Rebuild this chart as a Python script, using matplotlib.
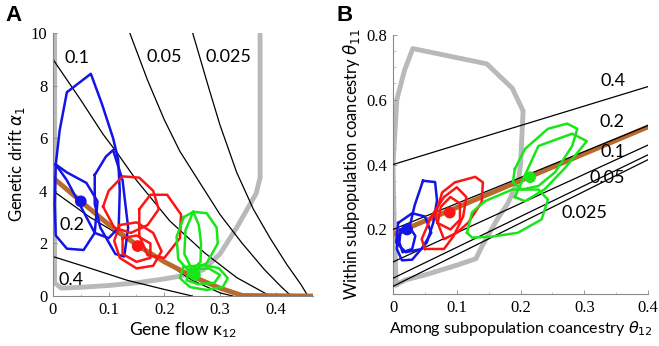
import numpy as np
import matplotlib.pyplot as plt
from matplotlib.ticker import MultipleLocator

# =============================================================================
# Dados
# =============================================================================
# Painel A: curvas de nivel (kappa_12, alpha_1)
a_levels = ['0.4', '0.2', '0.1', '0.05', '0.025']
a_kappa = [
    [0.0, 0.066, 0.133, 0.2, 0.25],
    [0.0, 0.066, 0.156, 0.2, 0.25, 0.3, 0.323],
    [0.0, 0.05, 0.09, 0.115, 0.15, 0.21, 0.273, 0.33, 0.39],
    [0.138, 0.17, 0.2, 0.228, 0.264, 0.3, 0.34, 0.38, 0.41, 0.428],
    [0.251, 0.28, 0.30, 0.33, 0.36, 0.39, 0.42, 0.445, 0.458],
]
a_alpha = [
    [1.5, 1.06, 0.6, 0.25, 0.0],
    [4.0, 3.0, 1.86, 1.3, 0.6, 0.12, 0.0],
    [9.0, 7.45, 6.15, 5.45, 4.4, 2.85, 1.63, 0.7, 0.0],
    [10.0, 8.2, 6.7, 5.5, 4.3, 3.1, 2.0, 1.0, 0.35, 0.0],
    [10.0, 7.9, 6.5, 4.7, 3.3, 2.2, 1.2, 0.45, 0.0],
]
a_label_pos = [(0.032, 0.6), (0.034, 2.7), (0.043, 9.05), (0.2, 9.1), (0.316, 9.1)]

a_brown_k = [0.0, 0.05, 0.1, 0.15, 0.2, 0.25, 0.3, 0.34, 0.467]
a_brown_a = [4.5, 3.6, 2.72, 1.95, 1.3, 0.75, 0.3, 0.02, 0.0]

a_gray_k = [0.372, 0.372, 0.365, 0.33, 0.30, 0.27, 0.24, 0.2, 0.15, 0.1, 0.05, 0.015, 0.003, 0.003]
a_gray_a = [10.0, 4.5, 3.9, 2.6, 1.6, 1.0, 0.8, 0.65, 0.5, 0.4, 0.33, 0.3, 0.5, 10.0]

a_blue_loops = [
    ([0.005, 0.012, 0.025, 0.068, 0.088, 0.108, 0.117, 0.12, 0.118, 0.1, 0.075, 0.05, 0.025, 0.005],
     [5.0, 6.3, 7.75, 8.45, 7.3, 6.0, 5.2, 4.0, 2.6, 2.2, 2.4, 3.4, 4.4, 5.0]),
    ([0.005, 0.025, 0.06, 0.08, 0.075, 0.055, 0.025, 0.005, 0.003, 0.005],
     [5.0, 4.7, 4.3, 3.6, 2.4, 1.75, 1.8, 2.3, 3.5, 5.0]),
    ([0.075, 0.095, 0.108, 0.125, 0.135, 0.128, 0.112, 0.085, 0.075, 0.075],
     [4.6, 5.3, 5.55, 4.4, 2.6, 1.5, 1.6, 2.6, 3.5, 4.6]),
]
a_red_loops = [
    ([0.09, 0.1, 0.125, 0.155, 0.18, 0.19, 0.17, 0.14, 0.11, 0.09],
     [3.4, 4.0, 4.55, 4.5, 4.0, 3.3, 2.7, 2.4, 2.6, 3.4]),
    ([0.155, 0.175, 0.205, 0.23, 0.228, 0.2, 0.17, 0.155, 0.155],
     [3.3, 3.85, 3.85, 3.1, 2.2, 1.45, 1.55, 2.3, 3.3]),
    ([0.12, 0.11, 0.12, 0.15, 0.18, 0.195, 0.18, 0.15, 0.12],
     [2.7, 2.1, 1.45, 1.05, 1.15, 1.7, 2.4, 2.8, 2.7]),
    ([0.125, 0.125, 0.15, 0.175, 0.175, 0.15, 0.125],
     [2.2, 1.6, 1.3, 1.45, 2.0, 2.3, 2.2]),
]
a_green_loops = [
    ([0.235, 0.252, 0.276, 0.294, 0.296, 0.276, 0.246, 0.225, 0.222, 0.235],
     [3.0, 3.2, 3.15, 2.6, 2.0, 1.25, 0.9, 1.4, 2.25, 3.0]),
    ([0.252, 0.262, 0.266, 0.265, 0.25, 0.236, 0.238, 0.252],
     [3.2, 2.7, 2.0, 1.3, 1.0, 1.6, 2.5, 3.2]),
    ([0.234, 0.228, 0.246, 0.276, 0.305, 0.314, 0.298, 0.27, 0.234],
     [1.1, 0.68, 0.34, 0.23, 0.34, 0.68, 1.06, 1.18, 1.1]),
    ([0.245, 0.24, 0.26, 0.29, 0.3, 0.28, 0.245],
     [1.0, 0.6, 0.45, 0.5, 0.8, 1.05, 1.0]),
]
a_dots_k = [0.05, 0.152, 0.255]
a_dots_a = [3.6, 1.9, 0.8]

# Painel B: retas (theta_12, theta_11)
b_levels = ['0.4', '0.2', '0.1', '0.05', '0.025']
b_x_ends = [0.0, 0.4]
b_y_ends = [[0.4, 0.64], [0.2, 0.52], [0.1, 0.46], [0.05, 0.43], [0.025, 0.415]]
b_label_pos = [(0.345, 0.656), (0.344, 0.53), (0.345, 0.44), (0.336, 0.36), (0.30, 0.25)]

b_brown_x = [0.0, 0.4]
b_brown_y = [0.185, 0.516]

b_gray_x = [0.005, 0.002, 0.0, 0.006, 0.018, 0.031, 0.147, 0.187, 0.204, 0.2, 0.197,
            0.18, 0.163, 0.14, 0.13, 0.1, 0.05, 0.02, 0.005]
b_gray_y = [0.03, 0.2, 0.4, 0.6, 0.69, 0.757, 0.71, 0.635, 0.565, 0.40, 0.355,
            0.28, 0.23, 0.15, 0.11, 0.09, 0.06, 0.045, 0.03]

b_blue_loops = [
    ([0.047, 0.066, 0.069, 0.063, 0.053, 0.03, 0.014, 0.006, 0.008, 0.027, 0.034, 0.047],
     [0.35, 0.346, 0.29, 0.22, 0.16, 0.107, 0.105, 0.14, 0.18, 0.216, 0.275, 0.35]),
    ([0.008, 0.03, 0.05, 0.06, 0.045, 0.02, 0.005, 0.008],
     [0.22, 0.25, 0.24, 0.19, 0.14, 0.13, 0.16, 0.22]),
    ([0.012, 0.025, 0.035, 0.03, 0.015, 0.01, 0.012],
     [0.2, 0.21, 0.18, 0.14, 0.13, 0.16, 0.2]),
]
b_red_loops = [
    ([0.066, 0.077, 0.097, 0.129, 0.141, 0.139, 0.118, 0.1, 0.08, 0.066],
     [0.24, 0.314, 0.345, 0.362, 0.345, 0.284, 0.221, 0.19, 0.17, 0.24]),
    ([0.05, 0.045, 0.06, 0.08, 0.1, 0.115, 0.11, 0.095, 0.08, 0.05],
     [0.14, 0.17, 0.24, 0.3, 0.33, 0.3, 0.24, 0.18, 0.14, 0.14]),
    ([0.07, 0.075, 0.09, 0.105, 0.105, 0.09, 0.07],
     [0.22, 0.27, 0.3, 0.28, 0.23, 0.2, 0.22]),
]
b_green_loops = [
    ([0.191, 0.207, 0.243, 0.273, 0.289, 0.281, 0.254, 0.228, 0.202, 0.188, 0.191],
     [0.386, 0.448, 0.51, 0.526, 0.51, 0.457, 0.376, 0.334, 0.323, 0.345, 0.386]),
    ([0.191, 0.228, 0.281, 0.304, 0.27, 0.238, 0.207, 0.191],
     [0.3, 0.457, 0.495, 0.472, 0.39, 0.324, 0.287, 0.3]),
    ([0.116, 0.124, 0.144, 0.187, 0.228, 0.243, 0.233, 0.196, 0.155, 0.124, 0.116],
     [0.19, 0.253, 0.287, 0.323, 0.323, 0.292, 0.231, 0.19, 0.178, 0.175, 0.19]),
]
b_dots_x = [0.022, 0.089, 0.215]
b_dots_y = [0.2, 0.252, 0.361]

loop_colors = ['#1414e6', '#ff1414', '#19e619']
gray_c = '#b9b9b9'
brown_c = '#b8692c'

# =============================================================================
# Figura
# =============================================================================
fig = plt.figure(figsize=(6.59, 3.46), dpi=100)
num_font = 'Liberation Serif'


def style_axes(ax):
    ax.spines['top'].set_visible(False)
    ax.spines['right'].set_visible(False)
    for s in ['left', 'bottom']:
        ax.spines[s].set_color('#888888')
        ax.spines[s].set_linewidth(0.8)
    ax.tick_params(direction='in', length=3, width=0.6, color='#888888', labelsize=12, pad=4)
    ax.tick_params(which='minor', direction='in', length=1.8, width=0.5, color='#aaaaaa')
    for t in ax.get_xticklabels() + ax.get_yticklabels():
        t.set_fontfamily(num_font)


# ---- Painel A ----
axA = fig.add_axes([0.0804, 0.1445, 0.3945, 0.760])
axA.plot(a_gray_k, a_gray_a, color=gray_c, lw=3.5, solid_joinstyle='round', zorder=1)
for k, a in zip(a_kappa, a_alpha):
    axA.plot(k, a, color='black', lw=0.9, zorder=2)
axA.plot(a_brown_k, a_brown_a, color=brown_c, lw=3.5, zorder=3)
for loops, c in zip([a_blue_loops, a_red_loops, a_green_loops], loop_colors):
    for k, a in loops:
        axA.plot(k, a, color=c, lw=1.8, solid_joinstyle='round', zorder=4)
axA.scatter(a_dots_k, a_dots_a, color=loop_colors, s=55, zorder=5)
for lab, (x, y) in zip(a_levels, a_label_pos):
    axA.text(x, y, lab, ha='center', va='center', fontsize=13, family='Lato', zorder=6)

axA.set_xlim(0, 0.467)
axA.set_ylim(0, 10)
axA.set_xticks([0, 0.1, 0.2, 0.3, 0.4])
axA.set_xticklabels(['0', '0.1', '0.2', '0.3', '0.4'])
axA.set_yticks([0, 2, 4, 6, 8, 10])
axA.xaxis.set_minor_locator(MultipleLocator(0.05))
axA.yaxis.set_minor_locator(MultipleLocator(1))
axA.set_xlabel(r'Gene flow $\mathregular{\kappa_{12}}$', family='Lato', fontsize=12.5, labelpad=2)
axA.set_ylabel(r'Genetic drift $\alpha_1$', family='Lato', fontsize=12, labelpad=3)
style_axes(axA)

# ---- Painel B ----
axB = fig.add_axes([0.5964, 0.149, 0.387, 0.751])
axB.plot(b_gray_x, b_gray_y, color=gray_c, lw=3.5, solid_joinstyle='round', zorder=1)
axB.plot(b_brown_x, b_brown_y, color=brown_c, lw=3.5, zorder=2)
for ys in b_y_ends:
    axB.plot(b_x_ends, ys, color='black', lw=0.9, zorder=3)
for loops, c in zip([b_blue_loops, b_red_loops, b_green_loops], loop_colors):
    for x, y in loops:
        axB.plot(x, y, color=c, lw=1.8, solid_joinstyle='round', zorder=4)
axB.scatter(b_dots_x, b_dots_y, color=loop_colors, s=55, zorder=5)
for lab, (x, y) in zip(b_levels, b_label_pos):
    axB.text(x, y, lab, ha='center', va='center', fontsize=13, family='Lato', zorder=6)

axB.set_xlim(0, 0.4)
axB.set_ylim(0, 0.8)
axB.set_xticks([0, 0.1, 0.2, 0.3, 0.4])
axB.set_xticklabels(['0', '0.1', '0.2', '0.3', '0.4'])
axB.set_yticks([0.2, 0.4, 0.6, 0.8])
axB.set_yticklabels(['0.2', '0.4', '0.6', '0.8'])
axB.xaxis.set_minor_locator(MultipleLocator(0.05))
axB.yaxis.set_minor_locator(MultipleLocator(0.05))
axB.set_xlabel(r'Among subpopulation coancestry $\theta_{12}$', family='Lato', fontsize=11.5, labelpad=2)
axB.set_ylabel(r'Within subpopulation coancestry $\theta_{11}$', family='Lato', fontsize=12, labelpad=3)
style_axes(axB)

fig.text(0.008, 0.985, 'A', fontsize=16, fontweight='bold', family='Liberation Sans', va='top')
fig.text(0.51, 0.985, 'B', fontsize=16, fontweight='bold', family='Liberation Sans', va='top')

plt.savefig('out.png', dpi=100)
